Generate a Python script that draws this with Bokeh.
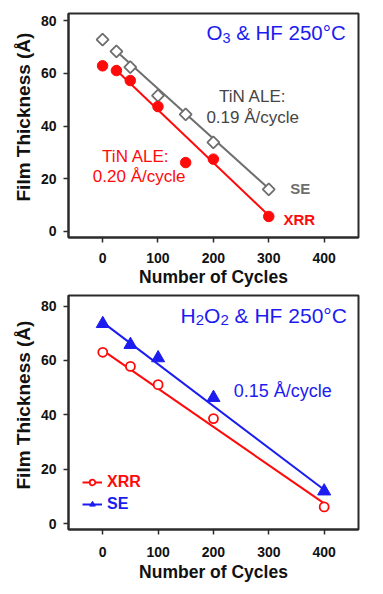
import math
from bokeh.plotting import figure
from bokeh.layouts import column
from bokeh.models import FixedTicker, Label, Legend, LegendItem, Range1d, Title
from bokeh.embed import file_html
from bokeh.resources import INLINE

# ---------------- data: top panel (O3 & HF 250 °C) ----------------
o3_se_cycles = [0, 25, 50, 100, 150, 200, 300]
o3_se_thickness = [72.9, 68.4, 62.4, 51.6, 44.4, 33.8, 15.9]
o3_xrr_cycles = [0, 25, 50, 100, 150, 200, 300]
o3_xrr_thickness = [62.9, 61.1, 57.3, 47.4, 26.1, 27.4, 5.6]
o3_se_fit_cycles = [25, 300]
o3_se_fit_thickness = [68.4, 16.2]
o3_xrr_fit_cycles = [25, 300]
o3_xrr_fit_thickness = [61.2, 6.0]

# ---------------- data: bottom panel (H2O2 & HF 250 °C) ----------------
h2o2_se_cycles = [0, 50, 100, 200, 400]
h2o2_se_thickness = [73.5, 65.8, 60.9, 46.3, 11.9]
h2o2_xrr_cycles = [0, 50, 100, 200, 400]
h2o2_xrr_thickness = [63.0, 57.8, 51.1, 38.6, 6.1]
h2o2_se_fit_cycles = [0, 400]
h2o2_se_fit_thickness = [74.0, 12.4]
h2o2_xrr_fit_cycles = [0, 400]
h2o2_xrr_fit_thickness = [63.7, 7.4]

x_ticks = [0, 100, 200, 300, 400]
y_ticks = [0, 20, 40, 60, 80]

RED = "#ff0a0a"
GRAY = "#6e6e6e"
DARKGRAY = "#454545"
BLUE = "#1c1cf0"
FRAME = "#2b2b2b"
FONT = "Liberation Sans"

# Arial / Liberation Sans advance widths (em) for the header strings
ADV = {"O": 0.778, "H": 0.722, "2": 0.556, "3": 0.556, " ": 0.278, "&": 0.667,
       "F": 0.611, "5": 0.556, "0": 0.556, "°": 0.4, "C": 0.722}


def text_width(s, size):
    return sum(ADV[c] for c in s) * size


def make_fig(x_rng, y_rng, width, height, left, right, top, bottom,
             title_offset, tick_standoff, label_standoff):
    p = figure(width=width, height=height,
               x_range=Range1d(*x_rng), y_range=Range1d(*y_rng),
               output_backend="svg", toolbar_location=None,
               min_border_left=left, min_border_right=right,
               min_border_top=top, min_border_bottom=bottom)
    p.xgrid.visible = False
    p.ygrid.visible = False
    p.background_fill_color = "white"
    p.border_fill_color = "white"
    p.outline_line_color = FRAME
    p.outline_line_width = 2
    p.xaxis.ticker = FixedTicker(ticks=x_ticks)
    p.yaxis.ticker = FixedTicker(ticks=y_ticks)
    for ax in (p.xaxis[0], p.yaxis[0]):
        ax.major_label_text_font = FONT
        ax.major_label_text_font_style = "bold"
        ax.major_label_text_font_size = "14px"
        ax.major_label_text_color = "#111111"
        ax.major_tick_out = 5
        ax.major_tick_in = 0
        ax.minor_tick_out = 0
        ax.minor_tick_in = 0
        ax.axis_line_color = FRAME
        ax.axis_line_width = 2
        ax.major_tick_line_color = FRAME
        ax.major_tick_line_width = 1.5
    p.yaxis.major_label_standoff = 7
    p.xaxis.major_label_standoff = tick_standoff
    p.xaxis.axis_label = "Number of Cycles"
    p.xaxis.axis_label_text_font = FONT
    p.xaxis.axis_label_text_font_style = "bold"
    p.xaxis.axis_label_text_font_size = "17.5px"
    p.xaxis.axis_label_text_color = "#111111"
    p.xaxis.axis_label_standoff = label_standoff
    # vertical axis title, placed like the reference (not centred on the frame)
    p.add_layout(Title(text="Film Thickness (Å)", align="left", offset=title_offset,
                       text_font=FONT, text_font_style="bold", text_font_size="19px",
                       text_color="#111111", standoff=8), "left")
    return p


def note(p, x, y, text, color, size, align="center", bold=False, dx=0, dy=0):
    p.add_layout(Label(x=x, y=y, text=text, text_color=color,
                       text_align=align, text_baseline="middle",
                       x_offset=dx, y_offset=dy,
                       text_font=FONT, text_font_size=f"{size}px",
                       text_font_style="bold" if bold else "normal"))


def header(p, x, y, parts, size, sub_size, color):
    """Right-aligned header made of normal and subscript pieces.
    Each part is (text, is_subscript, space_before)."""
    dx = 0.0
    for txt, is_sub, space_before in reversed(parts):
        s = sub_size if is_sub else size
        note(p, x, y, txt, color, s, align="right", dx=-dx, dy=-5 if is_sub else 0)
        dx += text_width(txt, s)
        if space_before:
            dx += text_width(" ", size)


# ---------------- top figure ----------------
p1 = make_fig((-61.5, 462), (-2.4, 82.8), 375, 290, 66, 17, 13, 53, 36, 10, 1)
p1.line(o3_se_fit_cycles, o3_se_fit_thickness, line_color=GRAY, line_width=2)
p1.line(o3_xrr_fit_cycles, o3_xrr_fit_thickness, line_color=RED, line_width=2)
p1.scatter(o3_se_cycles, o3_se_thickness, marker="square", angle=math.pi / 4,
           size=8.5, fill_color="white", line_color=GRAY, line_width=1.8)
p1.scatter(o3_xrr_cycles, o3_xrr_thickness, marker="circle", size=10.5,
           fill_color=RED, line_color=RED)
header(p1, 439, 75.5, [("O", False, False), ("3", True, False),
                       ("& HF 250°C", False, True)], 20.5, 14.5, BLUE)
note(p1, 271, 51.4, "TiN ALE:", DARKGRAY, 17)
note(p1, 271, 43.3, "0.19 Å/cycle", DARKGRAY, 17)
note(p1, 60, 28.5, "TiN ALE:", RED, 17)
note(p1, 66, 20.9, "0.20 Å/cycle", RED, 17)
note(p1, 339, 16.2, "SE", GRAY, 15, align="left", bold=True)
note(p1, 326.5, 4.4, "XRR", RED, 15, align="left", bold=True)

# ---------------- bottom figure ----------------
p2 = make_fig((-61.9, 462), (-2.2, 83.9), 375, 300, 68, 6, 5, 61, 40, 12, 2)
r_se_line = p2.line(h2o2_se_fit_cycles, h2o2_se_fit_thickness, line_color=BLUE, line_width=2)
r_xrr_line = p2.line(h2o2_xrr_fit_cycles, h2o2_xrr_fit_thickness, line_color=RED, line_width=2)
r_se_pts = p2.scatter(h2o2_se_cycles, h2o2_se_thickness, marker="triangle", size=13,
                      fill_color=BLUE, line_color=BLUE)
r_xrr_pts = p2.scatter(h2o2_xrr_cycles, h2o2_xrr_thickness, marker="circle", size=9,
                       fill_color="white", line_color=RED, line_width=1.8)
header(p2, 441, 76.6, [("H", False, False), ("2", True, False), ("O", False, False),
                       ("2", True, False), ("& HF 250°C", False, True)], 21, 15, BLUE)
note(p2, 325, 48.9, "0.15 Å/cycle", BLUE, 18)

for label, rends, color, loc in (("XRR", [r_xrr_line, r_xrr_pts], RED, (14, 38)),
                                 ("SE", [r_se_line, r_se_pts], BLUE, (14, 16))):
    leg = Legend(items=[LegendItem(label=label, renderers=rends)], location=loc,
                 padding=0, margin=0, spacing=0, glyph_width=20, glyph_height=14,
                 label_height=14, label_standoff=5, label_text_color=color,
                 label_text_font=FONT, label_text_font_style="bold",
                 label_text_font_size="16px", border_line_color=None,
                 background_fill_alpha=0)
    p2.add_layout(leg)

layout = column(p1, p2, spacing=0)
open("out.html", "w").write(file_html(layout, INLINE))
